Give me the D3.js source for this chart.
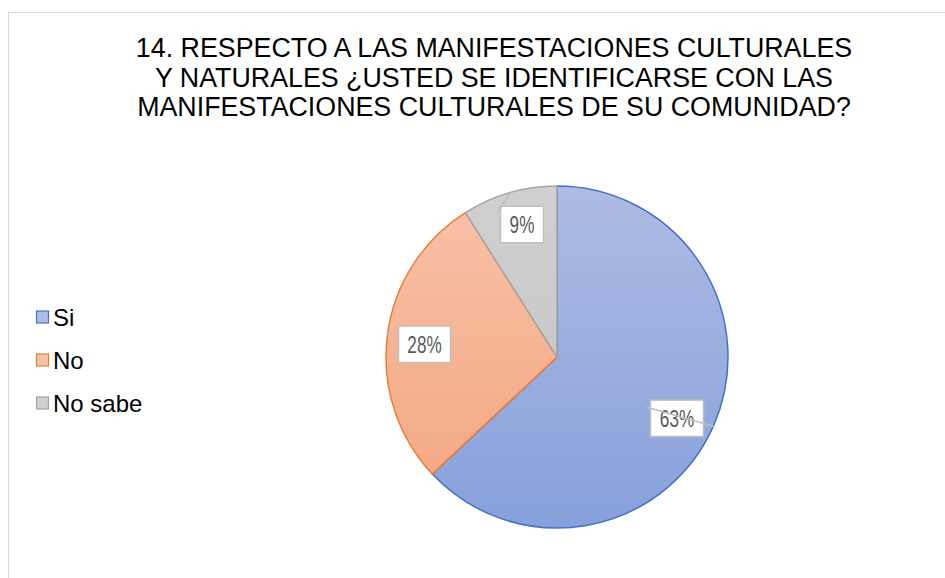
<!DOCTYPE html>
<html><head><meta charset="utf-8">
<script src="https://cdn.jsdelivr.net/npm/d3@7"></script>
<style>body{margin:0;background:#fff}svg{display:block}</style>
</head><body>
<script>
const titleLines = ["14. RESPECTO A LAS MANIFESTACIONES CULTURALES","Y NATURALES ¿USTED SE IDENTIFICARSE CON LAS","MANIFESTACIONES CULTURALES DE SU COMUNIDAD?"];
const categories = ["Si","No","No sabe"];
const values = [63,28,9];
const labels = ["63%","28%","9%"];
const strokeColors = ["#4472c4","#ed7d31","#a5a5a5"];
const topColors = ["#aebbe3","#f7c2aa","#d0d0d0"];
const bottomColors = ["#87a0db","#f4a47e","#c2c2c2"];

const W=945,H=578;
const svg=d3.select("body").append("svg").attr("width",W).attr("height",H);
svg.append("rect").attr("x",8.5).attr("y",12.5).attr("width",W).attr("height",H).attr("fill","#fff").attr("stroke","#d9d9d9").attr("stroke-width",1);

svg.append("g").selectAll("text").data(titleLines).join("text")
 .attr("x",494).attr("y",(d,i)=>57+i*29.5).attr("text-anchor","middle")
 .attr("font-family","Liberation Sans, Arial, sans-serif").attr("font-size",26.8).attr("fill","#000").text(d=>d);

const cx=557,cy=357,r=171;
const defs=svg.append("defs");
categories.forEach((c,i)=>{
  const g=defs.append("linearGradient").attr("id","g"+i).attr("gradientUnits","userSpaceOnUse")
   .attr("x1",0).attr("y1",-r).attr("x2",0).attr("y2",r);
  g.append("stop").attr("offset","0%").attr("stop-color",topColors[i]);
  g.append("stop").attr("offset","100%").attr("stop-color",bottomColors[i]);
});
const pie=d3.pie().sort(null).value(d=>d)(values);
const arc=d3.arc().innerRadius(0).outerRadius(r);
const pg=svg.append("g").attr("transform",`translate(${cx},${cy})`);
pg.selectAll("path").data(pie).join("path").attr("d",arc)
 .attr("fill",(d,i)=>`url(#g${i})`).attr("stroke",(d,i)=>strokeColors[i]).attr("stroke-width",1.5).attr("stroke-linejoin","round");

// data-label boxes (offsets from pie centre) and leader lines
const boxPos=[[120,61.3],[-132.5,-12.7],[-35,-132.5]];
const boxW=[53,52,43],boxH=36.5;
const leaders=[[[90,50.3],[158,69.7]],[[-170.3,-23],[-162,-23.7]],[[-59.7,-144.7],[-47,-163.7]]];
const lg=pg.append("g");
pie.forEach((d,i)=>{
  const [lx,ly]=boxPos[i];
  const g=lg.append("g");
  g.append("rect").attr("x",lx-boxW[i]/2).attr("y",ly-boxH/2).attr("width",boxW[i]).attr("height",boxH)
   .attr("fill","#fff").attr("stroke","#bfbfbf").attr("stroke-width",1.5);
  g.append("text").attr("transform",`translate(${lx},${ly+8.8}) scale(0.7,1)`).attr("text-anchor","middle")
   .attr("font-family","Liberation Sans, Arial, sans-serif")
   .attr("font-size",24.5).attr("fill","#595959").text(labels[i]);
  g.append("line").attr("x1",leaders[i][0][0]).attr("y1",leaders[i][0][1]).attr("x2",leaders[i][1][0]).attr("y2",leaders[i][1][1])
   .attr("stroke","#bfbfbf").attr("stroke-width",1.5);
});

const leg=svg.append("g");
categories.forEach((c,i)=>{
  const y=317+i*43;
  leg.append("rect").attr("x",36.5).attr("y",y-6).attr("width",12).attr("height",12)
   .attr("fill",topColors[i]).attr("stroke",strokeColors[i]).attr("stroke-width",1.2);
  leg.append("text").attr("x",53).attr("y",y+8.5).attr("font-family","Liberation Sans, Arial, sans-serif")
   .attr("font-size",24).attr("fill","#000").text(c);
});
</script>
</body></html>
